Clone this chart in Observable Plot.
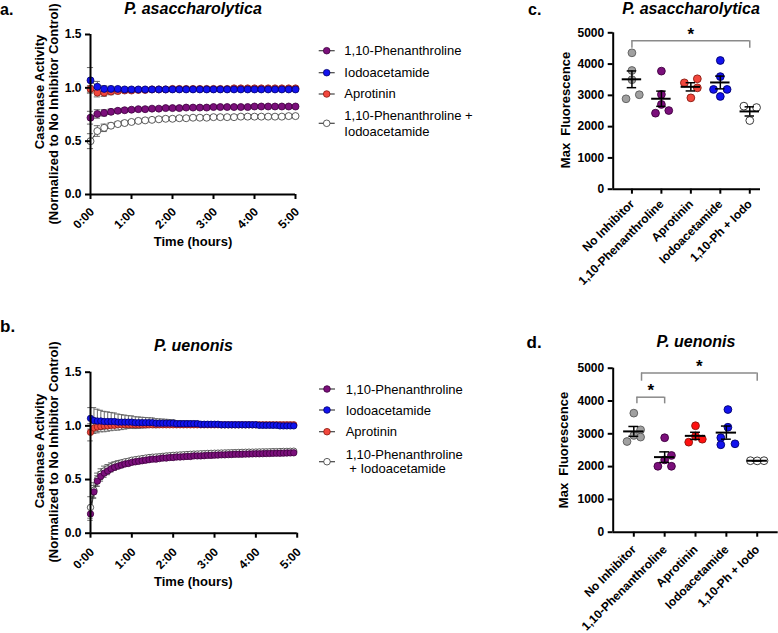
<!DOCTYPE html>
<html><head><meta charset="utf-8">
<script src="https://cdn.jsdelivr.net/npm/d3@7"></script>
<script src="https://cdn.jsdelivr.net/npm/@observablehq/plot@0.6"></script>
<style>
body{margin:0;background:#fff;}
#fig{position:relative;width:778px;height:633px;overflow:hidden;background:#fff;font-family:"Liberation Sans",Arial,sans-serif;color:#000;}
#fig svg{position:absolute;}
</style>
</head><body>
<div id="fig"></div>
<script>
// ---------- Panels a / b : time course ----------
const seriesNames = ["1,10-Phenanthroline", "Iodoacetamide", "Aprotinin", "1,10-Phenanthroline + Iodoacetamide"];
const timeTicks = [0, 60, 120, 180, 240, 300];
const timeTickLabels = ["0:00", "1:00", "2:00", "3:00", "4:00", "5:00"];
const yTicksTS = [0, 0.5, 1.0, 1.5];

const timesA = [0,10,20,30,40,50,60,70,80,90,100,110,120,130,140,150,160,170,180,190,200,210,220,230,240,250,260,270,280,290,300];
const phenA = [0.72,0.755,0.765,0.775,0.785,0.79,0.795,0.80,0.80,0.805,0.805,0.81,0.81,0.81,0.815,0.815,0.815,0.815,0.82,0.82,0.82,0.82,0.82,0.82,0.825,0.825,0.825,0.825,0.825,0.825,0.825];
const iodoA = [1.07,1.01,0.99,0.99,0.99,0.985,0.985,0.985,0.985,0.985,0.985,0.985,0.985,0.985,0.985,0.985,0.985,0.985,0.985,0.985,0.985,0.985,0.985,0.985,0.985,0.985,0.985,0.985,0.985,0.985,0.985];
const aproA = [0.99,0.955,0.955,0.965,0.97,0.975,0.975,0.98,0.98,0.985,0.985,0.985,0.99,0.99,0.99,0.99,0.99,0.99,0.99,0.99,0.99,0.995,0.995,0.995,0.995,0.995,0.995,0.995,0.995,0.995,0.995];
const comboA = [0.50,0.595,0.625,0.645,0.66,0.67,0.68,0.69,0.695,0.70,0.705,0.71,0.71,0.715,0.715,0.72,0.72,0.72,0.725,0.725,0.725,0.725,0.73,0.73,0.73,0.73,0.73,0.73,0.73,0.735,0.735];
const phenErrA = [0.06,0.04,0.03,0.025,0.02,0.02,0.015,0.015,0.015,0.015,0.015,0.015,0.015,0.015,0.015,0.015,0.015,0.015,0.015,0.015,0.015,0.015,0.015,0.015,0.015,0.015,0.015,0.015,0.015,0.015,0.015];
const iodoErrA = [0.12,0.05,0.03,0.025,0.02,0.02,0.02,0.015,0.015,0.015,0.015,0.015,0.015,0.015,0.015,0.015,0.015,0.015,0.015,0.015,0.015,0.015,0.015,0.015,0.015,0.015,0.015,0.015,0.015,0.015,0.015];
const aproErrA = [0.03,0.04,0.035,0.03,0.025,0.02,0.02,0.015,0.015,0.015,0.015,0.015,0.015,0.015,0.015,0.015,0.015,0.015,0.015,0.015,0.015,0.015,0.015,0.015,0.015,0.015,0.015,0.015,0.015,0.015,0.015];
const comboErrA = [0.07,0.05,0.035,0.025,0.02,0.02,0.015,0.015,0.015,0.015,0.015,0.015,0.015,0.015,0.015,0.015,0.015,0.015,0.015,0.015,0.015,0.015,0.015,0.015,0.015,0.015,0.015,0.015,0.015,0.015,0.015];

const timesB = [0,5,10,15,20,25,30,35,40,45,50,55,60,65,70,75,80,85,90,95,100,105,110,115,120,125,130,135,140,145,150,155,160,165,170,175,180,185,190,195,200,205,210,215,220,225,230,235,240,245,250,255,260,265,270,275,280,285,290,295];
const phenB = [0.18,0.385,0.485,0.53,0.56,0.58,0.60,0.615,0.625,0.635,
  0.645,0.65,0.66,0.665,0.67,0.675,0.68,0.685,0.69,0.69,
  0.695,0.70,0.70,0.705,0.705,0.71,0.71,0.712,0.715,0.715,
  0.72,0.72,0.72,0.722,0.725,0.725,0.727,0.728,0.73,0.73,
  0.732,0.733,0.735,0.735,0.736,0.737,0.738,0.739,0.74,0.74,
  0.741,0.742,0.743,0.744,0.745,0.745,0.746,0.747,0.748,0.749];
const iodoB = [1.07,1.05,1.045,1.045,1.04,1.04,1.04,1.04,1.035,1.035,
  1.035,1.035,1.035,1.03,1.03,1.03,1.03,1.03,1.03,1.025,
  1.025,1.025,1.025,1.025,1.025,1.02,1.02,1.02,1.02,1.02,
  1.02,1.02,1.015,1.015,1.015,1.015,1.015,1.015,1.01,1.01,
  1.01,1.01,1.01,1.01,1.01,1.01,1.01,1.01,1.01,1.005,
  1.005,1.005,1.005,1.005,1.005,1.0,1.0,1.0,1.0,1.0];
const aproB = [0.94,0.98,0.99,0.995,1.0,1.0,1.005,1.005,1.01,1.01,
  1.01,1.01,1.01,1.01,1.01,1.01,1.01,1.01,1.01,1.01,
  1.01,1.01,1.01,1.01,1.01,1.01,1.01,1.01,1.01,1.01,
  1.01,1.01,1.01,1.01,1.01,1.01,1.01,1.01,1.01,1.01,
  1.01,1.01,1.01,1.01,1.01,1.01,1.01,1.01,1.01,1.01,
  1.01,1.01,1.01,1.01,1.01,1.01,1.01,1.01,1.01,1.01];
const comboB = [0.24,0.40,0.50,0.55,0.58,0.60,0.62,0.635,0.645,0.655,
  0.665,0.67,0.68,0.685,0.69,0.695,0.70,0.705,0.708,0.71,
  0.713,0.716,0.72,0.722,0.725,0.727,0.729,0.731,0.733,0.735,
  0.737,0.738,0.74,0.741,0.743,0.744,0.745,0.746,0.747,0.748,
  0.749,0.75,0.751,0.752,0.753,0.754,0.755,0.755,0.756,0.757,
  0.758,0.758,0.759,0.76,0.76,0.761,0.762,0.762,0.763,0.764];
const phenErrB = [0.06,0.06,0.05,0.045,0.04,0.035,0.03,0.03,0.025,0.025,
  0.02,0.02,0.02,0.02,0.02,0.018,0.018,0.018,0.018,0.016,
  0.016,0.016,0.016,0.015,0.015,0.015,0.015,0.015,0.014,0.014,
  0.014,0.014,0.014,0.013,0.013,0.013,0.013,0.013,0.013,0.012,
  0.012,0.012,0.012,0.012,0.012,0.012,0.012,0.012,0.012,0.012,
  0.012,0.012,0.012,0.012,0.012,0.012,0.012,0.012,0.012,0.012];
const iodoErrB = [0.10,0.12,0.11,0.10,0.095,0.09,0.085,0.08,0.075,0.07,
  0.065,0.06,0.058,0.055,0.053,0.05,0.048,0.046,0.044,0.042,
  0.04,0.038,0.036,0.034,0.032,0.03,0.03,0.029,0.028,0.027,
  0.026,0.025,0.025,0.024,0.023,0.023,0.022,0.022,0.021,0.021,
  0.02,0.02,0.02,0.02,0.019,0.019,0.019,0.019,0.018,0.018,
  0.018,0.018,0.018,0.017,0.017,0.017,0.017,0.017,0.016,0.016];
const aproErrB = [0.08,0.05,0.04,0.03,0.03,0.025,0.02,0.02,0.02,0.02,
  0.015,0.015,0.015,0.015,0.015,0.015,0.015,0.015,0.015,0.015,
  0.015,0.015,0.015,0.015,0.015,0.015,0.015,0.015,0.015,0.015,
  0.015,0.015,0.015,0.015,0.015,0.015,0.015,0.015,0.015,0.015,
  0.015,0.015,0.015,0.015,0.015,0.015,0.015,0.015,0.015,0.015,
  0.015,0.015,0.015,0.015,0.015,0.015,0.015,0.015,0.015,0.015];
const comboErrB = [0.10,0.07,0.06,0.05,0.045,0.04,0.035,0.03,0.03,0.025,
  0.022,0.02,0.02,0.02,0.02,0.018,0.018,0.018,0.018,0.016,
  0.016,0.016,0.016,0.015,0.015,0.015,0.015,0.015,0.014,0.014,
  0.014,0.014,0.014,0.013,0.013,0.013,0.013,0.013,0.013,0.012,
  0.012,0.012,0.012,0.012,0.012,0.012,0.012,0.012,0.012,0.012,
  0.012,0.012,0.012,0.012,0.012,0.012,0.012,0.012,0.012,0.012];

const seriesFill = {"1,10-Phenanthroline": "#7b0f7b", "Iodoacetamide": "#1212ee", "Aprotinin": "#f2473d", "1,10-Phenanthroline + Iodoacetamide": "#ffffff"};
const seriesStroke = {"1,10-Phenanthroline": "#3e003e", "Iodoacetamide": "#00006e", "Aprotinin": "#8a1a10", "1,10-Phenanthroline + Iodoacetamide": "#333333"};

// ---------- Panels c / d : max fluorescence ----------
const groups = ["No Inhibitor", "1,10-Phenanthroline", "Aprotinin", "Iodoacetamide", "1,10-Ph + Iodo"];
const groupFill = ["#a0a0a0", "#7b0f7b", "#f2473d", "#1212ee", "#ffffff"];
const groupFillD = ["#a0a0a0", "#7b0f7b", "#ff1010", "#1212ee", "#ffffff"];
const groupStroke = ["#5a5a5a", "#3e003e", "#8a1a10", "#00006e", "#222222"];
const yTicksMF = [0, 1000, 2000, 3000, 4000, 5000];

const noInhC = [4360, 3795, 3500, 2890, 3020];
const phenC = [3775, 3030, 2710, 2430, 2515];
const aproC = [3400, 3530, 3240, 2920];
const iodoC = [4115, 3600, 3190, 3190, 2965];
const comboC = [2655, 2610, 2195];
const spreadC = [[0, 0, 0, -0.2, 0.25], [0, 0, 0, -0.2, 0.25], [-0.22, 0.22, 0.22, 0], [0, 0, -0.23, 0.23, 0], [-0.2, 0.23, 0]];
const bracketsC = [{from: 0, to: 4, y: 4745, tip: 4510, label: "*"}];

const noInhD = [3630, 3120, 2950, 2765, 2900];
const phenD = [2880, 2340, 2205, 2010, 2010];
const aproD = [3245, 2925, 2745, 2835];
const iodoD = [3740, 3200, 2880, 2665, 2695];
const comboD = [2180, 2175, 2180];
const spreadD = [[0, 0.22, 0, -0.22, 0.22], [0, 0.22, 0, -0.22, 0.22], [0, 0, -0.22, 0.22], [0.05, 0.05, -0.18, -0.18, 0.28], [-0.22, 0, 0.22]];
const bracketsD = [{from: 0.1, to: 1, y: 4116, tip: 3913, label: "*"}, {from: 0.25, to: 4, y: 4850, tip: 4604, label: "*"}];

// ---------- builders ----------
const fig = document.getElementById("fig");
const baseStyle = {fontFamily: "'Liberation Sans', Arial, sans-serif", fontSize: "12px", fontWeight: "bold", color: "#000", background: "transparent", overflow: "visible"};

function place(svg, left, top) {
  svg.style.left = left + "px";
  svg.style.top = top + "px";
  fig.appendChild(svg);
}

function rotatedLabels(ticks, labels, dx, dy) {
  return Plot.text(ticks, {
    x: d => d, text: (d, i) => labels[i], frameAnchor: "bottom",
    rotate: -45, textAnchor: "end", lineAnchor: "top", dx, dy,
    fontSize: 12, fontWeight: "bold", fill: "#000"
  });
}

function tsPanel(times, list, L) {
  const rows = [];
  for (const s of list) s.values.forEach((v, i) => rows.push({s: s.name, t: times[i], v, e: s.errors[i]}));
  const cap = L.cap;
  return Plot.plot({
    width: L.width, height: L.height,
    marginLeft: L.ml, marginRight: L.mr, marginTop: L.mt, marginBottom: L.mb,
    style: baseStyle,
    x: {domain: [0, 300]},
    y: {domain: [0, 1.5]},
    color: {type: "identity"},
    marks: [
      Plot.ruleX(rows, {x: "t", y1: d => d.v - d.e, y2: d => d.v + d.e, stroke: "#6a6a6a", strokeWidth: 1}),
      Plot.ruleY(rows, {y: d => d.v + d.e, x1: d => d.t - cap, x2: d => d.t + cap, stroke: "#6a6a6a", strokeWidth: 1}),
      Plot.ruleY(rows, {y: d => d.v - d.e, x1: d => d.t - cap, x2: d => d.t + cap, stroke: "#6a6a6a", strokeWidth: 1}),
      Plot.line(rows, {x: "t", y: "v", z: "s", stroke: "#333", strokeWidth: 1}),
      Plot.dot(rows, {x: "t", y: "v", r: L.r, fill: d => seriesFill[d.s], stroke: d => seriesStroke[d.s], strokeWidth: 0.8}),
      Plot.ruleX([0], {strokeWidth: 2}),
      Plot.ruleY([0], {strokeWidth: 2}),
      Plot.axisY(yTicksTS, {tickSize: 5, strokeWidth: 2, tickFormat: d => d.toFixed(1), label: null}),
      Plot.axisX(timeTicks, {tickSize: 5, strokeWidth: 2, tickFormat: () => "", label: null}),
      rotatedLabels(timeTicks, timeTickLabels, L.ldx, L.ldy)
    ]
  });
}

function mfPanel(vals, spread, fills, brackets, L) {
  const pts = [];
  vals.forEach((arr, g) => arr.forEach((v, j) => pts.push({g, x: g + spread[g][j], v})));
  const stats = vals.map((arr, g) => {
    const m = d3.mean(arr);
    const sem = d3.deviation(arr) / Math.sqrt(arr.length);
    return {g, m, lo: m - sem, hi: m + sem};
  });
  const mh = 0.33, ch = 0.16;
  const idx = groups.map((g, i) => i);
  return Plot.plot({
    width: L.width, height: L.height,
    marginLeft: L.ml, marginRight: L.mr, marginTop: L.mt, marginBottom: L.mb,
    style: baseStyle,
    x: {domain: L.xdom},
    y: {domain: [0, 5000]},
    color: {type: "identity"},
    marks: [
      Plot.ruleY(brackets, {y: "y", x1: "from", x2: "to", stroke: "#8a8a8a", strokeWidth: 1.5}),
      Plot.ruleX(brackets, {x: "from", y1: "tip", y2: "y", stroke: "#8a8a8a", strokeWidth: 1.5}),
      Plot.ruleX(brackets, {x: "to", y1: "tip", y2: "y", stroke: "#8a8a8a", strokeWidth: 1.5}),
      Plot.text(brackets, {x: d => (d.from + d.to) / 2, y: "y", text: "label", lineAnchor: "bottom", dy: -1, fontSize: 17, fontWeight: "bold"}),
      Plot.dot(pts, {x: "x", y: "v", r: 3.9, fill: d => fills[d.g], stroke: d => groupStroke[d.g], strokeWidth: 0.9}),
      Plot.ruleY(stats, {y: "m", x1: d => d.g - mh, x2: d => d.g + mh, stroke: "#000", strokeWidth: 2}),
      Plot.ruleX(stats, {x: "g", y1: "lo", y2: "hi", stroke: "#000", strokeWidth: 1.5}),
      Plot.ruleY(stats, {y: "hi", x1: d => d.g - ch, x2: d => d.g + ch, stroke: "#000", strokeWidth: 1.5}),
      Plot.ruleY(stats, {y: "lo", x1: d => d.g - ch, x2: d => d.g + ch, stroke: "#000", strokeWidth: 1.5}),
      Plot.ruleX([L.xdom[0]], {y1: 0, y2: 5000, strokeWidth: 2}),
      Plot.ruleY([0], {strokeWidth: 2}),
      Plot.axisY(yTicksMF, {tickSize: 5, strokeWidth: 2, tickFormat: d => String(d), label: null}),
      Plot.axisX(idx, {tickSize: 5, strokeWidth: 2, tickFormat: () => "", label: null}),
      rotatedLabels(idx, groups, L.ldx, L.ldy)
    ]
  });
}

const listA = [
  {name: seriesNames[3], values: comboA, errors: comboErrA},
  {name: seriesNames[2], values: aproA, errors: aproErrA},
  {name: seriesNames[1], values: iodoA, errors: iodoErrA},
  {name: seriesNames[0], values: phenA, errors: phenErrA}
];
const listB = [
  {name: seriesNames[3], values: comboB, errors: comboErrB},
  {name: seriesNames[2], values: aproB, errors: aproErrB},
  {name: seriesNames[1], values: iodoB, errors: iodoErrB},
  {name: seriesNames[0], values: phenB, errors: phenErrB}
];

place(tsPanel(timesA, listA, {width: 300, height: 260, ml: 90, mr: 5, mt: 34, mb: 66, r: 3.5, cap: 4.5, ldx: -1.5, ldy: 12}), 0, 0);
place(tsPanel(timesB, listB, {width: 300, height: 270, ml: 90, mr: 3.3, mt: 41.7, mb: 67.3, r: 3.2, cap: 4, ldx: -1.5, ldy: 13.5}), 0, 330);
place(mfPanel([noInhC, phenC, aproC, iodoC, comboC], spreadC, groupFill, bracketsC,
  {width: 258, height: 300, ml: 92.7, mr: 18, mt: 32.3, mb: 111.3, xdom: [-0.636, 4.364], ldx: -3, ldy: 9.5}), 520, 0);
place(mfPanel([noInhD, phenD, aproD, iodoD, comboD], spreadD, groupFillD, bracketsD,
  {width: 258, height: 303, ml: 92.7, mr: 0.3, mt: 37.7, mb: 101.3, xdom: [-0.668, 4.68], ldx: -3, ldy: 12}), 520, 330);

// ---------- annotation overlay (titles, axis titles, legends) ----------
const ov = d3.create("svg").attr("width", 778).attr("height", 633)
  .style("left", "0px").style("top", "0px")
  .attr("font-family", "'Liberation Sans', Arial, sans-serif");

function txt(x, y, s, o = {}) {
  const t = ov.append("text").attr("x", x).attr("y", y).text(s)
    .attr("font-size", o.size || 13)
    .attr("font-weight", o.weight || "normal")
    .attr("font-style", o.style || "normal")
    .attr("text-anchor", o.anchor || "start")
    .style("white-space", "pre");
  if (o.rotate) t.attr("transform", `rotate(-90 ${x} ${y})`);
  return t;
}

// panel letters
txt(0, 14.5, "a.", {size: 16, weight: "bold"});
txt(0, 331.5, "b.", {size: 17, weight: "bold"});
txt(528, 14.5, "c.", {size: 16, weight: "bold"});
txt(526.5, 348, "d.", {size: 17, weight: "bold"});

// titles
txt(193, 14, "P. asaccharolytica", {size: 16, weight: "bold", style: "italic", anchor: "middle"});
txt(193.5, 351, "P. uenonis", {size: 16, weight: "bold", style: "italic", anchor: "middle"});
txt(691, 14, "P. asaccharolytica", {size: 16, weight: "bold", style: "italic", anchor: "middle"});
txt(696, 347, "P. uenonis", {size: 16, weight: "bold", style: "italic", anchor: "middle"});

// axis titles
txt(44, 92, "Caseinase Activity", {size: 13, weight: "bold", anchor: "middle", rotate: true});
txt(58.3, 114, "(Normalized to No Inhibitor Control)", {size: 13, weight: "bold", anchor: "middle", rotate: true});
txt(193, 246, "Time (hours)", {size: 13, weight: "bold", anchor: "middle"});
txt(44, 451, "Caseinase Activity", {size: 13, weight: "bold", anchor: "middle", rotate: true});
txt(58.3, 452, "(Normalized to No Inhibitor Control)", {size: 13, weight: "bold", anchor: "middle", rotate: true});
txt(193.3, 585.5, "Time (hours)", {size: 13, weight: "bold", anchor: "middle"});
txt(570, 110, "Max  Fluorescence", {size: 13, weight: "bold", anchor: "middle", rotate: true});
txt(568, 450, "Max  Fluorescence", {size: 13, weight: "bold", anchor: "middle", rotate: true});

// legends
function swatch(cx, cy, name, r) {
  ov.append("line").attr("x1", cx - 8).attr("x2", cx + 8).attr("y1", cy).attr("y2", cy).attr("stroke", "#444").attr("stroke-width", 1.2);
  ov.append("circle").attr("cx", cx).attr("cy", cy).attr("r", r).attr("fill", seriesFill[name]).attr("stroke", seriesStroke[name]).attr("stroke-width", 0.8);
}
const legA = [
  {name: seriesNames[0], my: 50.7, lines: [["1,10-Phenanthroline", 344.3, 55]]},
  {name: seriesNames[1], my: 72.7, lines: [["Iodoacetamide", 344.3, 77]]},
  {name: seriesNames[2], my: 94, lines: [["Aprotinin", 344.3, 98]]},
  {name: seriesNames[3], my: 123.3, lines: [["1,10-Phenanthroline +", 344.3, 120], ["Iodoacetamide", 344.3, 136]]}
];
const legB = [
  {name: seriesNames[0], my: 389, lines: [["1,10-Phenanthroline", 345.7, 393.5]]},
  {name: seriesNames[1], my: 410, lines: [["Iodoacetamide", 345.7, 414.5]]},
  {name: seriesNames[2], my: 431.7, lines: [["Aprotinin", 345.7, 436]]},
  {name: seriesNames[3], my: 461.7, lines: [["1,10-Phenanthroline", 345.7, 459], [" + Iodoacetamide", 345.7, 473]]}
];
for (const it of legA) { swatch(326.7, it.my, it.name, 3.3); for (const [s, x, y] of it.lines) txt(x, y, s, {size: 13}); }
for (const it of legB) { swatch(327, it.my, it.name, 3.3); for (const [s, x, y] of it.lines) txt(x, y, s, {size: 13}); }

fig.appendChild(ov.node());
</script>
</body></html>
